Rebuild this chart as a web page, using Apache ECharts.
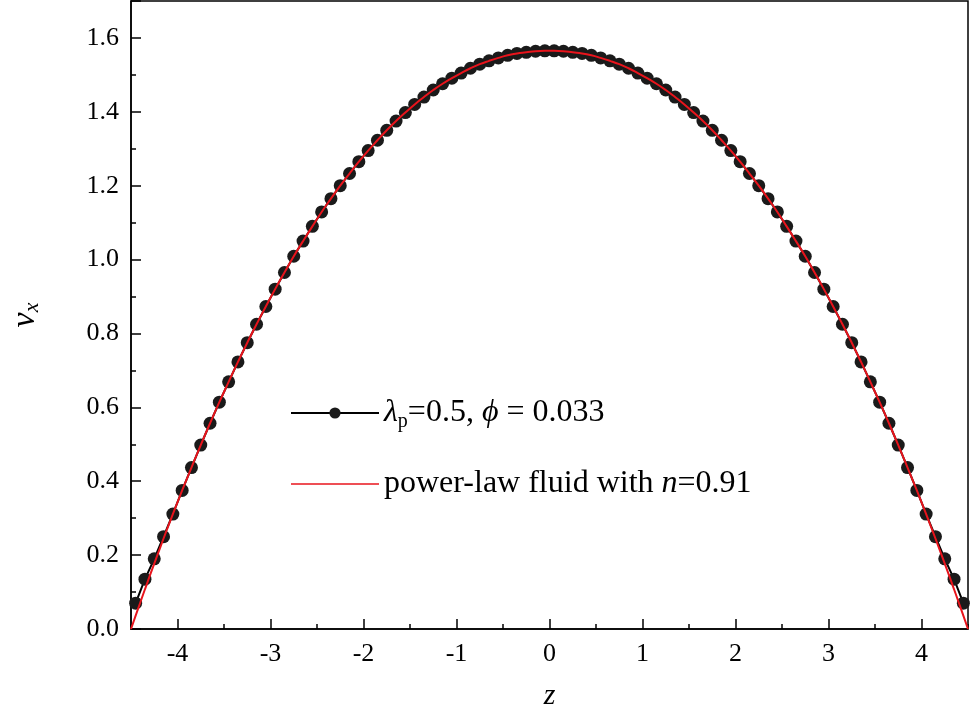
<!DOCTYPE html>
<html><head><meta charset="utf-8">
<script src="https://cdn.jsdelivr.net/npm/echarts@6/dist/echarts.min.js"></script>
<style>html,body{margin:0;padding:0;background:#fff}#c{width:972px;height:728px}</style>
</head><body><div id="c"></div>
<script>
// marker z positions (positive half; mirrored)
const zHalf = [0.05,0.15,0.25,0.35,0.45,0.55,0.65,0.75,0.85,0.95,1.05,1.15,1.25,1.35,1.45,1.55,1.65,1.75,1.85,1.95,2.05,2.15,2.25,2.35,2.45,2.55,2.65,2.75,2.85,2.95,3.05,3.15,3.25,3.35,3.45,3.55,3.65,3.75,3.85,3.95,4.05,4.15,4.25,4.35,4.45];
const vSim = [1.565,1.564,1.561,1.558,1.553,1.546,1.538,1.529,1.518,1.505,1.491,1.476,1.459,1.440,1.420,1.398,1.375,1.350,1.323,1.295,1.265,1.233,1.200,1.165,1.129,1.090,1.050,1.009,0.965,0.920,0.873,0.825,0.775,0.723,0.669,0.614,0.557,0.498,0.437,0.375,0.311,0.250,0.190,0.135,0.070];
const vFit = [1.565,1.564,1.561,1.558,1.553,1.546,1.538,1.529,1.518,1.505,1.491,1.476,1.459,1.440,1.420,1.398,1.375,1.350,1.323,1.295,1.265,1.233,1.200,1.165,1.129,1.090,1.050,1.009,0.965,0.920,0.873,0.825,0.775,0.723,0.669,0.614,0.557,0.498,0.437,0.375,0.311,0.245,0.177,0.1075,0.036];
const xTicks = [-4,-3,-2,-1,0,1,2,3,4];

const sim = [], fit = [[-4.5,0]];
for (let i = zHalf.length-1; i >= 0; i--) { sim.push([-zHalf[i], vSim[i]]); fit.push([-zHalf[i], vFit[i]]); }
for (let i = 0; i < zHalf.length; i++) { sim.push([zHalf[i], vSim[i]]); fit.push([zHalf[i], vFit[i]]); }
fit.push([4.5,0]);

const F = 'Liberation Serif';
const chart = echarts.init(document.getElementById('c'));
chart.setOption({
  animation:false,
  grid:{left:128,right:4,top:1,bottom:99,show:true,borderColor:'#000',borderWidth:1.5},
  xAxis:[{
    type:'value',min:-4.5,max:4.5,
    axisLine:{show:true,onZero:false,lineStyle:{color:'#000',width:1.5}},
    axisTick:{show:true,inside:true,length:10,lineStyle:{color:'#000',width:1.5},customValues:xTicks},
    axisLabel:{color:'#000',fontFamily:F,fontSize:26,margin:12,customValues:xTicks},
    splitLine:{show:false},
    name:'z',nameLocation:'middle',nameGap:52,
    nameTextStyle:{fontFamily:F,fontSize:30,fontStyle:'italic',color:'#000'}
  },{
    type:'value',min:-4.5,max:4.5,interval:0.5,position:'bottom',
    axisLine:{show:false},axisLabel:{show:false},splitLine:{show:false},
    axisTick:{show:true,inside:true,length:5,lineStyle:{color:'#000',width:1.5}}
  }],
  yAxis:{
    type:'value',min:0,max:1.7,interval:0.2,
    axisLine:{show:true,onZero:false,lineStyle:{color:'#000',width:1.5}},
    axisTick:{show:true,inside:true,length:10,lineStyle:{color:'#000',width:1.5}},
    minorTick:{show:true,splitNumber:2,length:5,lineStyle:{color:'#000',width:1.5}},
    axisLabel:{color:'#000',fontFamily:F,fontSize:26,margin:12,formatter:v=>v.toFixed(1),
      showMaxLabel:false},
    splitLine:{show:false},
    name:'{a|v}{b|x}',nameLocation:'middle',nameGap:88,nameRotate:90,
    nameTextStyle:{rich:{a:{fontFamily:F,fontSize:34,fontStyle:'italic',color:'#000'},
      b:{fontFamily:F,fontSize:22,fontStyle:'italic',color:'#000',verticalAlign:'bottom',padding:[14,0,0,0]}}}
  },
  legend:{
    left:285,top:392,orient:'vertical',itemWidth:88,itemHeight:14,itemGap:36,
    data:['sim',{name:'fit',icon:'path://M0,6.3h88v1.4h-88z'}],
    formatter:n=> n==='sim' ? '{i|λ}{s|p}{t|=0.5, }{i|ϕ}{t| = 0.033}' : '{t|power-law fluid with }{i|n}{t|=0.91}',
    textStyle:{rich:{
      t:{fontFamily:F,fontSize:32,color:'#000'},
      i:{fontFamily:F,fontSize:32,fontStyle:'italic',color:'#000'},
      s:{fontFamily:F,fontSize:20,color:'#000',padding:[18,0,0,0]}
    }}
  },
  series:[{
    name:'sim',type:'line',data:sim,symbol:'circle',symbolSize:13,
    itemStyle:{color:'#1a1a1a'},lineStyle:{color:'#000',width:2},z:2
  },{
    name:'fit',type:'line',data:fit,smooth:true,showSymbol:false,symbol:'none',
    lineStyle:{color:'#e8141c',width:2},itemStyle:{color:'#e8141c'},z:3
  }]
});
</script></body></html>
